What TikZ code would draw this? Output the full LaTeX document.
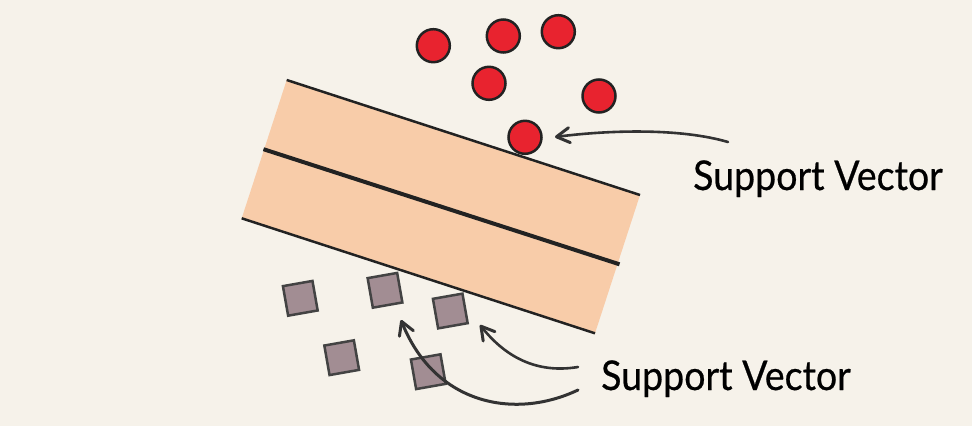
\documentclass[tikz,border=0pt]{standalone}
\usepackage{fontspec}
\setmainfont{Lato}[FakeBold=0.6]
\usetikzlibrary{arrows.meta}
\definecolor{bg}{HTML}{F6F2EA}
\definecolor{peach}{HTML}{F8CCA9}
\definecolor{dotred}{HTML}{E8232F}
\definecolor{sqfill}{HTML}{A28D93}
\definecolor{ink}{HTML}{222222}
\definecolor{arrowink}{HTML}{333333}
\tikzset{
  dot/.style={circle,draw=ink,fill=dotred,line width=2.5pt,minimum size=33pt,inner sep=0pt},
  sq/.style={rectangle,draw=ink!85,fill=sqfill,line width=2.5pt,minimum size=30pt,inner sep=0pt,rotate=10},
  edge/.style={draw=ink,line width=2.5pt},
  midline/.style={draw=ink,line width=4pt},
  pointer/.style={draw=arrowink,line width=2.6pt,line cap=round,-{Straight Barb[length=13pt,width=15pt,line width=3pt,round]}},
  lbl/.style={font=\fontsize{41}{41}\selectfont,anchor=base west,inner sep=0pt,text=black,xscale=0.915}
}
\begin{document}
\begin{tikzpicture}[x=1pt,y=-1pt]
\fill[bg] (0,0) rectangle (972,426);
\useasboundingbox (0,0) rectangle (972,426);
% band
\coordinate (TL) at (286.7,80);
\coordinate (TR) at (640,195);
\coordinate (BR) at (595,333.3);
\coordinate (BL) at (241.7,218.3);
\coordinate (ML) at (263.5,149.2);
\coordinate (MR) at (619.5,264.3);
\fill[peach] (TL) -- (TR) -- (BR) -- (BL) -- cycle;
\draw[edge] (TL) -- (TR);
\draw[edge] (BL) -- (BR);
\draw[midline] (ML) -- (MR);
% circles
\node[dot] (c1) at (433.3,45.7) {};
\node[dot] (c2) at (503.3,36) {};
\node[dot] (c3) at (558.3,31.7) {};
\node[dot] (c4) at (489,83.3) {};
\node[dot] (c5) at (599,96) {};
\node[dot] (c6) at (525,137.3) {};
% squares
\node[sq] (s1) at (300.3,298.3) {};
\node[sq] (s2) at (385,290.3) {};
\node[sq] (s3) at (450.3,311) {};
\node[sq] (s4) at (341.7,357.7) {};
\node[sq] (s5) at (428.3,371.7) {};
% labels
\node[lbl] (t1) at (693,190) {Support Vector};
\node[lbl] (t2) at (601,390) {Support Vector};
% arrows
\coordinate (a1s) at (728,142);
\coordinate (a1e) at (555,137);
\coordinate (a2s) at (578,367);
\coordinate (a2e) at (480,325);
\coordinate (a3s) at (578,390);
\coordinate (a3e) at (401,320);
\draw[pointer] (a1s) .. controls (680,128) and (610,130) .. (a1e);
\draw[pointer] (a2s) .. controls (530,375) and (500,350) .. (a2e);
\draw[pointer,line width=3pt] (a3s) .. controls (515,420) and (435,405) .. (a3e);
\end{tikzpicture}
\end{document}
